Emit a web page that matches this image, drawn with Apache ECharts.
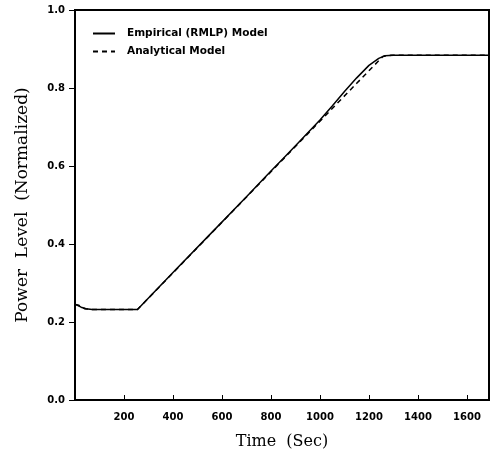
<!DOCTYPE html>
<html>
<head>
<meta charset="utf-8">
<script src="https://cdn.jsdelivr.net/npm/echarts@6/dist/echarts.min.js"></script>
<style>
html, body { margin: 0; padding: 0; background: #fff; }
#main { width: 498px; height: 461px; }
</style>
</head>
<body>
<div id="main"></div>
<script>
// data
var empTime  = [0, 10, 25, 45, 70, 150, 255, 400, 550, 700, 800, 850, 900, 1000, 1050, 1100, 1150, 1200, 1240, 1265, 1300, 1500, 1690];
var empPower = [0.246, 0.243, 0.238, 0.234, 0.232, 0.232, 0.232, 0.327, 0.424, 0.521, 0.587, 0.619, 0.652, 0.718, 0.754, 0.791, 0.826, 0.858, 0.876, 0.883, 0.884, 0.884, 0.884];
var anaTime  = [0, 15, 40, 70, 255, 1000, 1150, 1257, 1290, 1500, 1690];
var anaPower = [0.245, 0.243, 0.234, 0.232, 0.232, 0.715, 0.812, 0.881, 0.884, 0.884, 0.884];
var xTicks = [200, 400, 600, 800, 1000, 1200, 1400, 1600];
var yTicks = [0.0, 0.2, 0.4, 0.6, 0.8, 1.0];

function pairs(xs, ys) {
    var out = [];
    for (var i = 0; i < xs.length; i++) out.push([xs[i], ys[i]]);
    return out;
}

var myChart = echarts.init(document.getElementById('main'));
var option = {
    animation: false,
    grid: {
        left: 75, right: 9, top: 10, bottom: 61,
        show: true,
        borderColor: '#000',
        borderWidth: 2
    },
    legend: {
        left: 87, top: 23,
        orient: 'vertical',
        itemWidth: 22, itemHeight: 10, itemGap: 7,
        itemStyle: { opacity: 0 },
        textStyle: {
            fontFamily: 'DejaVu Sans', fontWeight: 'bold', fontSize: 10.5, color: '#000',
            padding: [0, 0, 0, 7]
        },
        data: ['Empirical (RMLP) Model', 'Analytical Model']
    },
    xAxis: {
        type: 'value',
        min: 0, max: 1690, interval: 200,
        name: 'Time  (Sec)',
        nameLocation: 'middle',
        nameGap: 34,
        nameTextStyle: { fontFamily: 'DejaVu Serif', fontSize: 16, color: '#000' },
        splitLine: { show: false },
        axisLine: { lineStyle: { color: '#000', width: 2 } },
        axisTick: { inside: true, length: 5, lineStyle: { color: '#000' } },
        axisLabel: {
            showMaxLabel: false,
            margin: 12,
            fontFamily: 'DejaVu Sans', fontWeight: 'bold', fontSize: 10, color: '#000',
            formatter: function (v) { return xTicks.indexOf(v) >= 0 ? String(v) : ''; }
        }
    },
    yAxis: {
        type: 'value',
        min: 0, max: 1, interval: 0.2,
        name: 'Power  Level  (Normalized)',
        nameLocation: 'middle',
        nameGap: 44,
        nameTextStyle: { fontFamily: 'DejaVu Serif', fontSize: 17, color: '#000' },
        splitLine: { show: false },
        axisLine: { lineStyle: { color: '#000', width: 2 } },
        axisTick: { length: 6, lineStyle: { color: '#000' } },
        axisLabel: {
            margin: 10,
            fontFamily: 'DejaVu Sans', fontWeight: 'bold', fontSize: 10, color: '#000',
            formatter: function (v) {
                for (var i = 0; i < yTicks.length; i++) {
                    if (Math.abs(yTicks[i] - v) < 1e-6) return yTicks[i].toFixed(1);
                }
                return '';
            }
        }
    },
    series: [
        {
            name: 'Empirical (RMLP) Model',
            type: 'line',
            symbol: 'none',
            data: pairs(empTime, empPower),
            lineStyle: { color: '#000', width: 1.5 },
            itemStyle: { color: '#000' }
        },
        {
            name: 'Analytical Model',
            type: 'line',
            symbol: 'none',
            data: pairs(anaTime, anaPower),
            lineStyle: { color: '#000', width: 1.5, type: [5, 4] },
            itemStyle: { color: '#000' }
        }
    ]
};
myChart.setOption(option);
window.onresize = myChart.resize;
</script>
</body>
</html>
